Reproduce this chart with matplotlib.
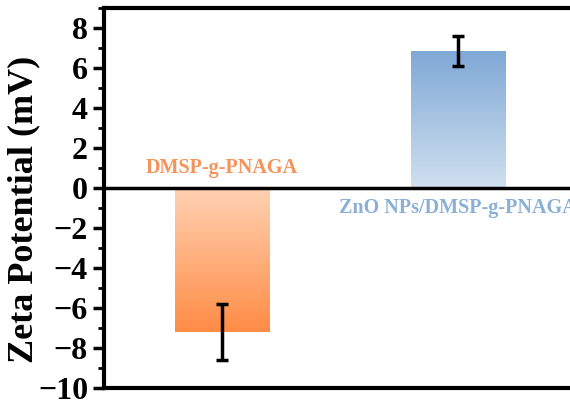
import matplotlib
matplotlib.use("Agg")
import matplotlib.pyplot as plt
import numpy as np
from matplotlib.colors import LinearSegmentedColormap
from matplotlib.ticker import MultipleLocator

font = {'family': 'serif', 'serif': ['Liberation Serif', 'DejaVu Serif'], 'weight': 'bold'}
matplotlib.rc('font', **font)

categories = ["DMSP-g-PNAGA", "ZnO NPs/DMSP-g-PNAGA"]
zeta = [-7.2, 6.85]
zeta_err = [1.42, 0.77]
label_colors = ["#F4935A", "#8AB0D8"]
# gradient colours: (top, bottom)
grads = [("#FFD2B4", "#FF8C45"), ("#7FA8D5", "#D0E0F0")]

fig = plt.figure(figsize=(5.7, 4.03), dpi=100)
ax = fig.add_axes([0.1825, 0.037, 0.828, 0.943])

x = np.arange(len(categories))
bars = ax.bar(x, zeta, width=0.4, color="none", edgecolor="none", zorder=2)

for bar, (ctop, cbot) in zip(bars, grads):
    cmap = LinearSegmentedColormap.from_list("g", [ctop, cbot])
    x0, y0 = bar.get_x(), bar.get_y()
    w, h = bar.get_width(), bar.get_height()
    ylo, yhi = min(y0, y0 + h), max(y0, y0 + h)
    grad = np.linspace(0, 1, 256).reshape(-1, 1)
    im = ax.imshow(grad, cmap=cmap, aspect="auto", origin="upper",
                   extent=[x0, x0 + w, ylo, yhi], zorder=2)
    im.set_clip_path(bar)

ax.errorbar(x, zeta, yerr=zeta_err, fmt="none", ecolor="black",
            elinewidth=2.5, capsize=4, capthick=2.5, zorder=3)

ax.axhline(0, color="black", lw=2.5, zorder=4)

ax.text(x[0], 1.0, categories[0], color=label_colors[0], ha="center", va="center",
        fontsize=14.5, fontweight="bold")
ax.text(x[1], -1.0, categories[1], color=label_colors[1], ha="center", va="center",
        fontsize=14.5, fontweight="bold", clip_on=False)

ax.set_xlim(-0.5, 1.5)
ax.set_ylim(-10, 9)
ax.yaxis.set_major_locator(MultipleLocator(2))
ax.yaxis.set_minor_locator(MultipleLocator(1))
ax.set_yticks([-10, -8, -6, -4, -2, 0, 2, 4, 6, 8])
ax.set_xticks([])
ax.tick_params(axis="y", which="major", length=8, width=2.5, labelsize=23, direction="out")
ax.tick_params(axis="y", which="minor", length=4.5, width=2, direction="out")
for s in ax.spines.values():
    s.set_linewidth(3)
ax.set_ylabel("Zeta Potential (mV)", fontsize=26, fontweight="bold")
ax.yaxis.set_label_coords(-0.135, 0.47)

fig.savefig("out.png", dpi=100)
